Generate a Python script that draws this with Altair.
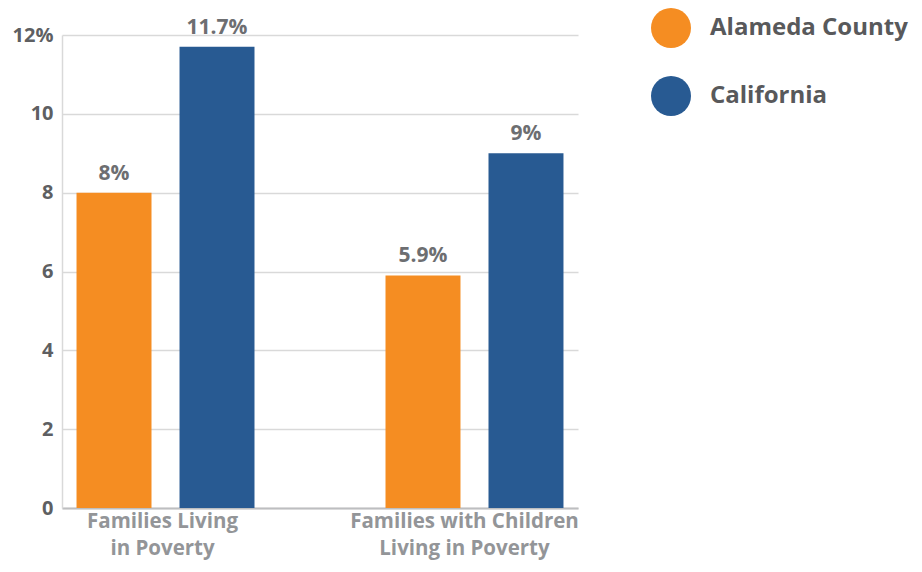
import altair as alt
import pandas as pd

categories = ["Families Living|in Poverty", "Families with Children|Living in Poverty"]
series = ["Alameda County", "California"]
alameda = [8.0, 5.9]
california = [11.7, 9.0]
value_labels_alameda = ["8%", "5.9%"]
value_labels_california = ["11.7%", "9%"]

rows = []
for i, c in enumerate(categories):
    rows.append({"category": c, "series": series[0], "value": alameda[i], "label": value_labels_alameda[i]})
    rows.append({"category": c, "series": series[1], "value": california[i], "label": value_labels_california[i]})
df = pd.DataFrame(rows)

FONT = "Open Sans"
colors = ["#F58D22", "#285A92"]

x = alt.X("category:N", sort=categories,
          scale=alt.Scale(paddingInner=0.424, paddingOuter=0.047),
          axis=alt.Axis(title=None, labelAngle=0, labelExpr="split(datum.label, '|')",
                        labelFont=FONT, labelFontSize=20.5, labelFontWeight="bold",
                        labelColor="#939598", labelPadding=3, labelLineHeight=27,
                        labelLimit=500,
                        labelOffset={"condition": {"test": f"datum.value == '{categories[0]}'", "value": -3},
                                     "value": -10},
                        ticks=False, domainColor="#BDBEC0", domainWidth=2, labelBaseline="top"))
xo = alt.XOffset("series:N", sort=series, scale=alt.Scale(paddingInner=0.272, paddingOuter=0))
y = alt.Y("value:Q", scale=alt.Scale(domain=[0, 12], nice=False),
          axis=alt.Axis(title=None, values=[0, 2, 4, 6, 8, 10, 12],
                        labelExpr="datum.value == 12 ? '12%' : datum.label",
                        labelFont=FONT, labelFontSize=20, labelFontWeight="bold",
                        labelColor="#5E5F62", labelPadding=9, ticks=False,
                        domain=True, domainColor="#D9D9D9", domainWidth=1.5,
                        gridColor="#D9D9D9", gridWidth=1.5))

bars = alt.Chart(df).mark_bar().encode(
    x=x, xOffset=xo, y=y,
    color=alt.Color("series:N", sort=series, scale=alt.Scale(domain=series, range=colors),
                    legend=alt.Legend(title=None, orient="none", legendX=589, legendY=-27,
                                      symbolType="circle", symbolSize=1600, symbolStrokeWidth=0,
                                      symbolOpacity=1, labelFont=FONT, labelFontSize=24,
                                      labelFontWeight="bold", labelColor="#58595B",
                                      labelOffset=19, rowPadding=28, padding=0,
                                      labelLimit=400)),
)

text = alt.Chart(df).mark_text(font=FONT, fontSize=21, fontWeight="bold", color="#6D6E71",
                               baseline="bottom", dy=-9).encode(
    x=alt.X("category:N", sort=categories), xOffset=alt.XOffset("series:N", sort=series),
    y="value:Q", text="label:N")

chart = alt.layer(bars, text).properties(
    width=516, height=473,
    autosize=alt.AutoSizeParams(type="none"),
    padding={"left": 54, "top": 27, "right": 336, "bottom": 56},
).configure_view(stroke=None)

chart.save("out.html", embed_options={"renderer": "svg", "actions": False})
